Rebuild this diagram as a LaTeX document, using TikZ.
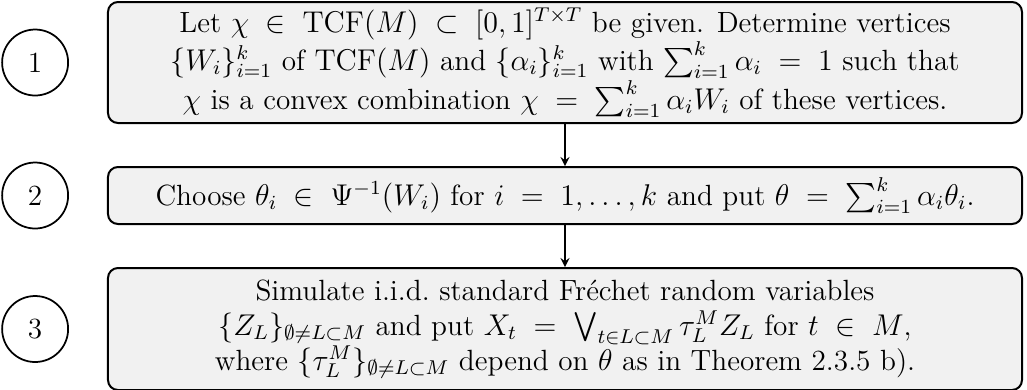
\documentclass[tikz,border=0pt]{standalone}
\usepackage{amsmath,amssymb}
\usetikzlibrary{arrows,positioning}
\definecolor{stepfill}{RGB}{241,241,241}
\thickmuskip=10mu plus 5mu
\tikzset{
  flow/.style={>=stealth,line width=0.6pt},
  stepbox/.style={draw,rounded corners=4pt,fill=stepfill,align=center,line width=0.8pt,
    minimum width=365.6pt,inner sep=2pt,font=\fontsize{11.7}{14}\selectfont},
  num/.style={draw,circle,minimum size=26.4pt,inner sep=0pt,line width=0.7pt,
    font=\fontsize{11.7}{14}\selectfont},
}

\begin{document}
\begin{tikzpicture}[flow,x=0.4pt,y=-0.4pt,node distance=16.8pt]
\useasboundingbox (0,0) rectangle (1027,389);
\node[stepbox,minimum height=48.4pt] (s1) at (565,62.5) {Let $\chi\in\mathrm{TCF}(M)\subset[0,1]^{T\times T}$ be given. Determine vertices\\ $\{W_i\}_{i=1}^k$ of $\mathrm{TCF}(M)$ and $\{\alpha_i\}_{i=1}^k$ with $\sum_{i=1}^k\alpha_i=1$ such that\\ $\chi$ is a convex combination $\chi=\sum_{i=1}^k\alpha_iW_i$ of these vertices.};
\node[stepbox,below=of s1,minimum height=22.8pt] (s2) {Choose $\theta_i\in\Psi^{-1}(W_i)$ for $i=1,\dots,k$ and put $\theta=\sum_{i=1}^k\alpha_i\theta_i$.};
\node[stepbox,below=of s2,minimum height=48.8pt] (s3) {Simulate i.i.d.\ standard Fr\'echet random variables\\ $\{Z_L\}_{\emptyset\neq L\subset M}$ and put $X_t=\bigvee_{t\in L\subset M}\tau_L^MZ_L$ for $t\in M$,\\ where $\{\tau_L^M\}_{\emptyset\neq L\subset M}$ depend on $\theta$ as in Theorem 2.3.5 b).};
\node[num,left=15.2pt of s1] (c1) {1};
\node[num,left=15.2pt of s2] (c2) {2};
\node[num,left=15.2pt of s3] (c3) {3};
\foreach \a/\b in {s1/s2,s2/s3} \draw[->] (\a)--(\b);
\end{tikzpicture}
\end{document}
